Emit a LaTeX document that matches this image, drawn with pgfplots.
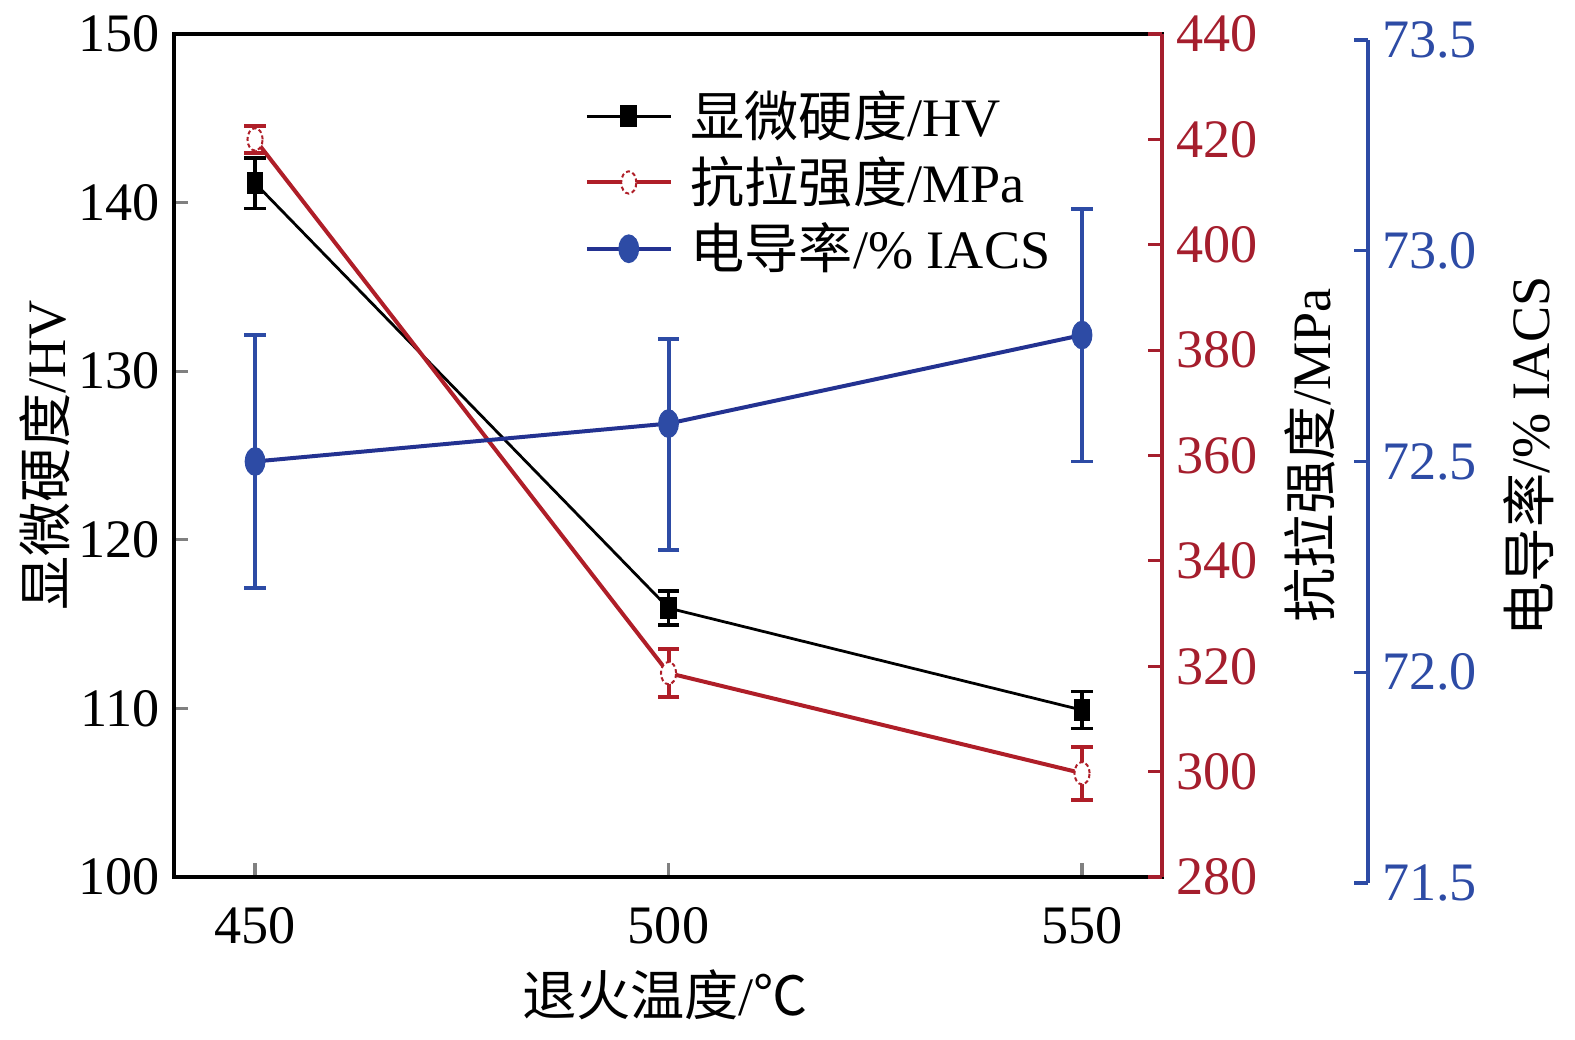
\documentclass[border=0pt]{standalone}
\usepackage{fontspec}
\setmainfont{Liberation Serif}
\newfontfamily\cjk{Noto Sans CJK SC}
\usepackage{pgfplots}
\pgfplotsset{compat=1.18}
\definecolor{axred}{RGB}{165,30,45}
\definecolor{axblue}{RGB}{45,75,165}
\definecolor{lnblue}{RGB}{35,50,145}
\definecolor{lnred}{RGB}{175,30,40}
\newcommand{\fs}{\fontsize{13.6}{16}\selectfont}
\pgfplotsset{
  common/.style={scale only axis, height=210.75bp,
    tick align=inside, major tick length=3.5bp,
    tick label style={font=\fs},
    label style={font=\fs},
    /pgf/number format/assume math mode=true,
    axis line style={line width=0.8pt},
    major tick style={line width=0.8pt}},
  hv/.style={black, line width=0.7pt, mark=square*, mark size=2.4pt, mark options={solid, xscale=0.72}},
  ts/.style={lnred, line width=1pt, mark=*, mark size=2.8pt, mark options={fill=white, draw=lnred, line width=0.5pt, dash pattern=on 1pt off 0.7pt, xscale=0.68}},
  ec/.style={lnblue, line width=1pt, mark=*, mark size=3.1pt, mark options={solid, fill=axblue, draw=axblue, xscale=0.68}},
}
\begin{document}
\begin{tikzpicture}
% main axis: hardness
\begin{axis}[common, width=247bp,
  xmin=440.2, xmax=559.67, ymin=100, ymax=150,
  xtick={450,500,550}, ytick={100,110,...,150},
  xtick pos=lower, ytick pos=lower,
  xticklabel style={yshift=-4pt},
  xlabel={{\cjk 退火温度}/{\cjk ℃}},
  ylabel={{\cjk 显微硬度}/HV},
  xlabel style={at={(axis description cs:0.497,-0.14)}, anchor=center},
  ylabel style={at={(axis description cs:-0.131,0.5)}, anchor=center},
  legend style={draw=none, fill=none, at={(axis description cs:0.403,0.953)}, anchor=north west, font=\fs, row sep=-0.4pt, cells={anchor=west},
    /tikz/every odd column/.append style={column sep=2.5pt}},
  legend image code/.code={\draw[mark repeat=2,mark phase=2,#1] plot coordinates {(0pt,0pt) (10.5pt,0pt) (21pt,0pt)};},
]
\addplot[hv, error bars/.cd, y dir=both, y explicit,
  error bar style={line width=0.9pt, solid},
  error mark options={rotate=90, mark size=2.7pt, line width=0.9pt}]
  coordinates {(450,141.15) +- (0,1.5) (500,115.95) +- (0,1.0) (550,109.9) +- (0,1.1)};
\addlegendentry{{\cjk 显微硬度}/HV}
\addlegendimage{ts}
\addlegendentry{{\cjk 抗拉强度}/MPa}
\addlegendimage{ec}
\addlegendentry{{\cjk 电导率}/\% IACS}
\end{axis}
% red axis: tensile strength
\begin{axis}[common, width=247bp,
  xmin=440.2, xmax=559.67, ymin=280, ymax=440,
  ytick={280,300,...,440},
  axis y line*=right, axis x line=none,
  y axis line style={axred}, ytick style={axred}, yticklabel style={color=axred},
  ylabel={{\cjk 抗拉强度}/MPa},
  ylabel style={at={(axis description cs:1.15,0.5)}, anchor=center},
]
\addplot[ts, error bars/.cd, y dir=both, y explicit,
  error bar style={line width=1pt, solid},
  error mark options={rotate=90, mark size=2.7pt, line width=1pt, solid}]
  coordinates {(450,420) +- (0,2.5) (500,318.7) +- (0,4.5) (550,299.7) +- (0,5)};
\end{axis}
% blue axis: conductivity
\begin{axis}[common, width=298.5bp, at={(0bp,-1.5bp)},
  xmin=440.2, xmax=584.58, ymin=71.5, ymax=73.5,
  ytick={71.5,72.0,72.5,73.0,73.5},
  /pgf/number format/fixed, /pgf/number format/fixed zerofill, /pgf/number format/precision=1,
  axis y line*=right, axis x line=none,
  y axis line style={axblue}, ytick style={axblue}, yticklabel style={color=axblue},
  ylabel={{\cjk 电导率}/\% IACS},
  ylabel style={at={(axis description cs:1.135,0.506)}, anchor=center},
]
\addplot[ec, error bars/.cd, y dir=both, y explicit,
  error bar style={line width=1pt, solid, axblue},
  error mark options={rotate=90, mark size=2.7pt, line width=1pt}]
  coordinates {(450,72.5) +- (0,0.3) (500,72.59) += (0,0.2) -= (0,0.3) (550,72.8) +- (0,0.3)};
\end{axis}
\pgfresetboundingbox
\useasboundingbox (-43.5bp,-40.75bp) rectangle (350.25bp,219.25bp);
\end{tikzpicture}
\end{document}
